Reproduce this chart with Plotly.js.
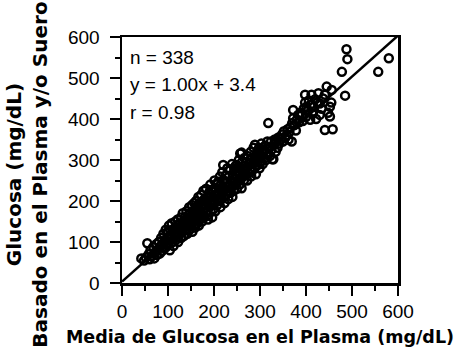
<!DOCTYPE html>
<html>
<head>
<meta charset="utf-8">
<script src="https://cdn.plot.ly/plotly-3.0.1.min.js"></script>
<style>html,body{margin:0;padding:0;background:#fff;}#chart{width:459px;height:349px;}</style>
</head>
<body>
<div id="chart"></div>
<script>
// Plasma mean glucose (mg/dL)
const plasmaX = [
42,48,52,55,58,60,62,65,68,70,72,75,76,78,80,
82,84,85,87,88,90,92,93,95,96,98,100,100,102,104,105,106,108,110,110,112,113,115,116,117,118,120,120,
121,122,124,125,126,128,129,130,131,132,134,135,136,137,138,140,140,142,143,144,145,146,147,148,150,150,152,153,154,155,156,157,158,159,160,160,
161,162,163,164,165,166,167,168,169,170,171,172,173,174,175,176,177,178,179,180,181,182,183,184,185,186,187,188,189,190,191,192,193,194,195,196,197,198,199,200,
201,202,203,204,205,206,207,209,210,211,212,213,214,215,216,217,218,219,220,221,222,223,224,225,226,228,229,230,231,232,233,235,236,237,238,239,240,
241,242,243,244,245,246,247,248,249,250,251,252,254,255,256,257,258,259,260,260,261,262,264,265,266,267,268,270,271,272,273,275,276,278,279,280,
281,282,283,284,286,287,288,289,290,291,292,294,295,296,298,299,300,302,303,305,306,308,310,311,313,315,316,318,318,320,
322,324,325,327,329,330,332,334,336,338,340,342,345,348,350,352,355,358,360,
362,364,366,369,370,372,372,375,378,380,383,385,388,391,393,395,398,398,400,401,
404,406,409,410,412,414,416,416,420,422,425,427,430,430,434,437,441,441,445,448,452,452,455,458,456,
478,485,488,490,557,580
];
// Plasma and/or serum based glucose (mg/dL)
const serumY = [
60,55,62,97,70,58,80,66,88,60,75,95,68,82,100,
72,90,110,78,95,120,85,102,130,88,110,95,125,140,80,108,118,146,100,130,90,120,135,150,105,125,112,140,
155,100,130,118,145,160,110,138,125,170,150,115,140,160,128,175,148,120,165,138,155,185,130,170,145,160,190,125,175,150,140,195,165,135,180,152,
200,170,145,188,160,210,140,178,195,155,170,215,185,150,200,165,225,180,160,205,190,172,230,170,195,210,155,166,220,185,200,240,175,210,190,160,228,200,180,215,
250,195,175,225,240,205,190,247,215,230,200,260,185,240,222,205,270,235,288,210,250,195,230,262,215,245,280,225,205,260,240,275,220,250,232,290,210,
262,245,225,278,255,284,240,265,288,230,272,250,300,262,240,316,280,255,231,318,295,268,285,250,305,275,262,295,280,250,310,290,268,300,275,320,
260,272,305,290,330,298,280,337,310,265,300,320,288,305,330,280,315,295,340,310,290,325,305,335,300,318,345,390,312,330,
310,345,325,302,302,338,350,320,345,330,355,340,350,362,345,370,355,361,375,
350,368,380,345,390,402,422,385,372,398,410,392,415,410,395,425,459,440,405,430,
420,445,398,435,459,412,430,418,448,400,440,463,438,410,425,450,459,373,479,415,430,406,440,375,471,
515,457,570,546,515,548
];
// Regression line y = 1.00x + 3.4
const fitX = [0, 600];
const fitY = [3.4, 603.4];
const statLines = ["n = 338", "y = 1.00x + 3.4", "r = 0.98"];
const xTitle = "Media de Glucosa en el Plasma (mg/dL)";
const yTitleLines = ["Glucosa (mg/dL)", "Basado en el Plasma y/o Suero"];

const FONT = "Liberation Sans, Arial, Helvetica, sans-serif";
const TITLE_FONT = "DejaVu Sans, Liberation Sans, Arial, sans-serif";

const traces = [
  {x: fitX, y: fitY, type: "scatter", mode: "lines", line: {color: "#000", width: 2.5}, hoverinfo: "skip"},
  {x: plasmaX, y: serumY, type: "scatter", mode: "markers",
   marker: {symbol: "circle-open", size: 8, color: "#000", line: {width: 2.5, color: "#000"}}}
];

const axisCommon = {
  range: [0, 600], dtick: 100, tick0: 0, ticks: "outside", ticklen: 10, tickwidth: 2, tickcolor: "#000",
  showline: true, linewidth: 2.5, linecolor: "#000", mirror: true,
  showgrid: false, zeroline: false, fixedrange: true,
  tickfont: {family: FONT, size: 19, color: "#000"},
  minor: {dtick: 50, ticks: "outside", ticklen: 5, tickwidth: 2, tickcolor: "#000", showgrid: false}
};

const annotations = statLines.map((t, i) => ({
  text: t, xref: "paper", yref: "paper", x: 0.02, y: [0.915, 0.805, 0.695][i],
  xanchor: "left", yanchor: "middle", showarrow: false,
  font: {family: FONT, size: 19, color: "#000"}
}));
annotations.push({
  text: "<b>" + yTitleLines.join("<br>") + "</b>",
  xref: "paper", yref: "paper", x: 0, y: 0.44, xshift: -95,
  xanchor: "center", yanchor: "middle", textangle: -90, showarrow: false,
  font: {family: TITLE_FONT, size: 20, color: "#000"}
});

const layout = {
  width: 459, height: 349,
  margin: {l: 122, r: 61, t: 37, b: 66},
  paper_bgcolor: "#fff", plot_bgcolor: "#fff",
  showlegend: false,
  xaxis: Object.assign({}, axisCommon, {
    title: {text: "<b>" + xTitle + "</b>", font: {family: TITLE_FONT, size: 17.5, color: "#000"}, standoff: 10}
  }),
  yaxis: Object.assign({}, axisCommon, {ticklabelstandoff: 6}),
  annotations: annotations
};

Plotly.newPlot("chart", traces, layout, {displayModeBar: false, staticPlot: true});
</script>
</body>
</html>
